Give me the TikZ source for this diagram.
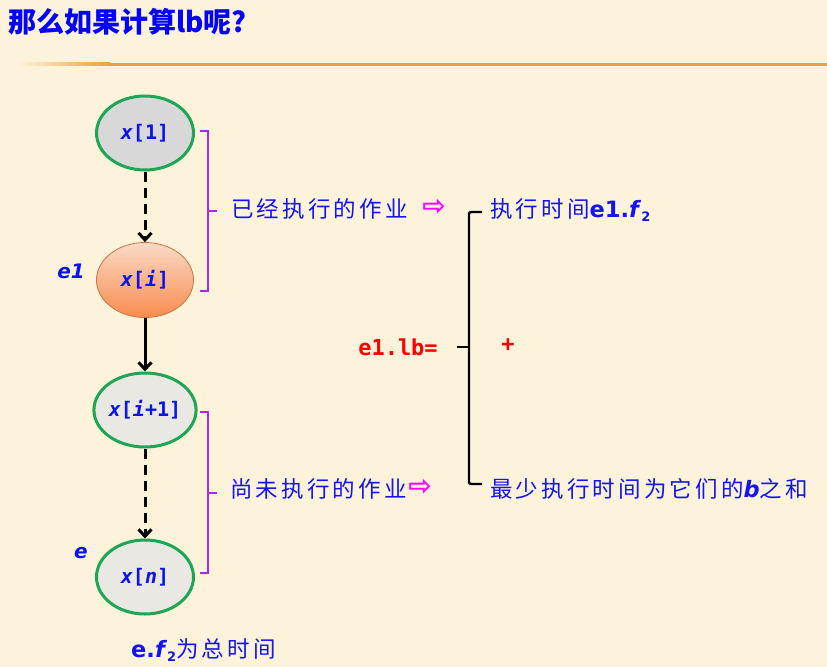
\documentclass[tikz,border=0pt]{standalone}
\usepackage{fontspec}
\setmainfont{DejaVu Sans}
\newfontfamily\cjk[LetterSpace=14]{Noto Sans CJK SC}
\newfontfamily\cjktitle{Noto Sans CJK SC}
\newfontfamily\mono{DejaVu Sans Mono}
\usepackage{xcolor}
\usetikzlibrary{arrows.meta,positioning,shapes.geometric}

\definecolor{paper}{RGB}{252,243,218}
\definecolor{rule}{RGB}{240,160,50}
\definecolor{jobgreen}{RGB}{30,165,85}
\definecolor{jobgray}{RGB}{234,232,226}
\definecolor{donegray}{RGB}{216,216,216}
\definecolor{curtop}{RGB}{251,218,198}
\definecolor{curbot}{RGB}{247,140,78}
\definecolor{curedge}{RGB}{196,118,64}
\definecolor{codeblue}{RGB}{10,20,235}
\definecolor{noteblue}{RGB}{20,20,240}
\definecolor{brkpurple}{RGB}{170,40,230}
\definecolor{hintpink}{RGB}{255,0,255}

% Subscripted f for the times.
\newcommand{\ftwo}{\textit{f}\raisebox{-4pt}{\fontsize{13}{13}\selectfont 2}}

\begin{document}
\begin{tikzpicture}[
  x=1pt,
  y=-1pt,
  every node/.style={inner sep=0pt},
  job/.style={ellipse, draw=jobgreen, line width=3pt, fill=jobgray, minimum width=97pt, minimum height=74pt, text=codeblue, font=\mono\bfseries\fontsize{20}{24}\selectfont},
  cur/.style={ellipse, draw=curedge, line width=0.8pt, top color=curtop, bottom color=curbot, minimum width=97pt, minimum height=75pt, text=codeblue, font=\mono\bfseries\fontsize{20}{24}\selectfont},
  tag/.style={text=codeblue, font=\bfseries\itshape\fontsize{20}{24}\selectfont},
  note/.style={anchor=west, text=noteblue, font=\cjk\fontsize{22.5}{26}\selectfont},
  hint/.style={text=hintpink, font=\bfseries\fontsize{28}{30}\selectfont},
  runarrow/.style={draw=black, line width=3pt, -{Straight Barb[length=7pt,width=13pt]}},
  waitarrow/.style={runarrow, dash pattern=on 10pt off 6pt},
  brk/.style={draw=brkpurple, line width=1.2pt},
  brace/.style={draw=black, line width=2.4pt, rounded corners=2pt},
]

% Paper.
\fill[paper] (0,0) rectangle (827,667);

% Title.
\node[anchor=west, text=blue, font=\cjktitle\bfseries\fontsize{28}{32}\selectfont] (title) at (8,22) {那么如果计算lb呢?};
\shade[left color=paper, right color=rule] (18,62.5) rectangle (110,65.5);
\fill[rule] (110,62.5) rectangle (827,65.5);

% Jobs.
\node[job, fill=donegray] (x1) at (145,133) {\textit{x}[1]};
\node[cur] (xi) at (145,280) {\textit{x}[\textit{i}]};
\node[job] (xi1) at (145,410) {\textit{x}[\textit{i}+1]};
\node[job] (xn) at (145,577) {\textit{x}[\textit{n}]};

\node[tag] (e1) at (71,271) {e1};
\node[tag] (e) at (81,553) {e};

\draw[waitarrow] (x1) -- (xi);
\draw[runarrow] (xi) -- (xi1);
\draw[waitarrow] (xi1) -- (xn);

% Brackets.
\draw[brk] (200,131) -| (208,291) -- (200,291);
\draw[brk] (208,211) -- (217,211);
\draw[brk] (200,412) -| (208,573) -- (200,573);
\draw[brk] (208,493) -- (217,493);

\node[note] (done) at (231,209) {已经执行的作业};
\node[hint] (doneArr) at (434,207) {⇨};
\node[note] (todo) at (230,489) {尚未执行的作业};
\node[hint] (todoArr) at (420,487) {⇨};

% Lower bound.
\node[text=red, font=\mono\bfseries\fontsize{22}{26}\selectfont] (lb) at (398,347) {e1.lb=};
\node[text=red, font=\mono\bfseries\fontsize{22}{26}\selectfont] (plus) at (508,345) {+};

\draw[brace] (482,212) -- (469,212) -- (469,484) -- (482,484);
\draw[brace] (469,347) -- (457,347);

\node[note] (own) at (490,210) {执行时间{\rmfamily\bfseries e1.\ftwo}};
\node[note] (rest) at (490,489) {最少执行时间为它们的{\rmfamily\bfseries\itshape b}之和};

\node[note] (total) at (131,650) {{\rmfamily\bfseries e.\ftwo}为总时间};

\end{tikzpicture}
\end{document}
